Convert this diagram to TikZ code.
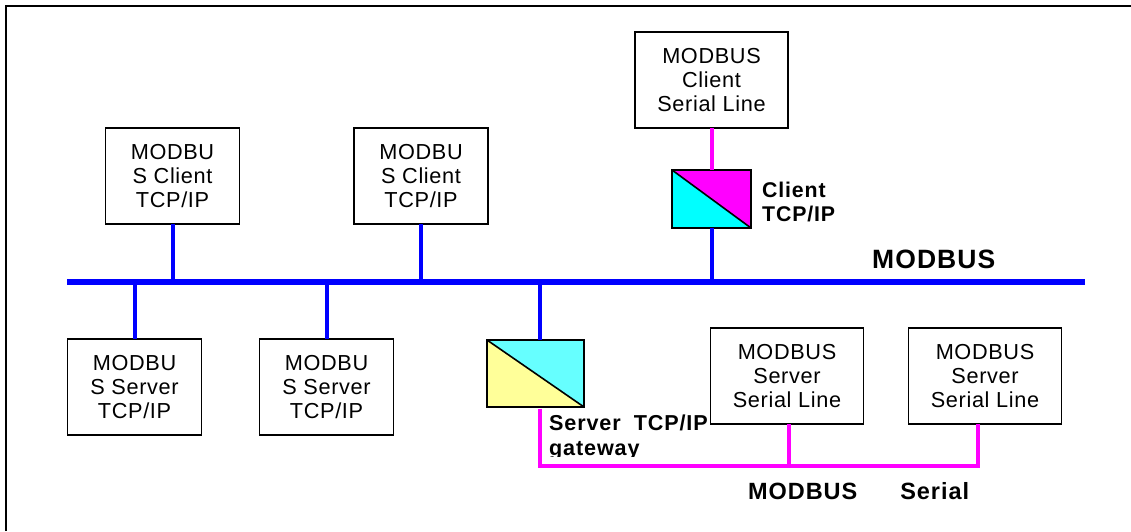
\documentclass[tikz,border=0pt]{standalone}
\usepackage{fontspec}
\setmainfont{Liberation Sans}
\newfontfamily\labelfont[LetterSpace=4]{Liberation Sans Bold}
\usetikzlibrary{positioning}
\definecolor{serialline}{RGB}{255,0,255}
\definecolor{busline}{RGB}{0,0,255}
\definecolor{convcyan}{RGB}{0,255,255}
\definecolor{gatecyan}{RGB}{102,255,255}
\definecolor{gateyellow}{RGB}{255,255,153}
\tikzset{
	devbox/.style={draw, line width=1.6, fill=white, inner sep=0, outer sep=0, align=center,
		font=\fontsize{21.7}{24}\selectfont\addfontfeature{LetterSpace=3}},
	tcpbox/.style={devbox, minimum width=134, minimum height=96},
	serbox/.style={devbox, minimum width=153, minimum height=96},
	convbox/.style={draw, line width=1.6, inner sep=0, outer sep=0},
	buswire/.style={busline, line width=4},
	serwire/.style={serialline, line width=4},
	boldlabel/.style={inner sep=0, anchor=west, align=left, font=\fontsize{21.3}{24.5}\labelfont}
}

\begin{document}
\begin{tikzpicture}[x=1pt, y=-1pt]

	\useasboundingbox (0,0) rectangle (1131,531);

	% frame, open at right and bottom
	\coordinate (framea) at (5.5,531);
	\coordinate (frameb) at (5.5,5.5);
	\coordinate (framec) at (1131,5.5);
	\draw[line width=2] (framea) -- (frameb) -- (framec);

	% TCP/IP devices
	\node[tcpbox] (clienta) at (172.5,176) {MODBU\\S Client\\TCP/IP};
	\node[tcpbox] (clientb) at (421,176) {MODBU\\S Client\\TCP/IP};
	\node[tcpbox] (servera) at (134.5,387) {MODBU\\S Server\\TCP/IP};
	\node[tcpbox] (serverb) at (326.5,387) {MODBU\\S Server\\TCP/IP};

	% serial line devices
	\node[serbox] (clients) at (711.5,80) {MODBUS\\Client\\Serial Line};
	\node[serbox] (serialc) at (787,376) {MODBUS\\Server\\Serial Line};
	\node[serbox] (seriald) at (985,376) {MODBUS\\Server\\Serial Line};

	% converters
	\node[convbox, minimum width=79, minimum height=58] (convc) at (711.5,199) {};
	\fill[serialline] (convc.north west) -- (convc.north east) -- (convc.south east) -- cycle;
	\fill[convcyan] (convc.north west) -- (convc.south west) -- (convc.south east) -- cycle;
	\draw[line width=1.6] (convc.north west) rectangle (convc.south east);
	\draw[line width=1.6] (convc.north west) -- (convc.south east);

	\node[convbox, minimum width=97, minimum height=67] (convs) at (535.5,373.5) {};
	\fill[gatecyan] (convs.north west) -- (convs.north east) -- (convs.south east) -- cycle;
	\fill[gateyellow] (convs.north west) -- (convs.south west) -- (convs.south east) -- cycle;
	\draw[line width=1.6] (convs.north west) rectangle (convs.south east);
	\draw[line width=1.6] (convs.north west) -- (convs.south east);

	% bus
	\coordinate (busa) at (67,281.5);
	\coordinate (busb) at (1085,281.5);
	\coordinate (gatein) at (540,281.5);
	\draw[busline, line width=6] (busa) -- (busb);
	\draw[buswire] (clienta.south) -- (clienta.south |- busa);
	\draw[buswire] (clientb.south) -- (clientb.south |- busa);
	\draw[buswire] (servera.north) -- (servera.north |- busa);
	\draw[buswire] (serverb.north) -- (serverb.north |- busa);
	\draw[buswire] (convc.south) -- (convc.south |- busa);
	\draw[buswire] (gatein) -- (gatein |- convs.north);

	% serial wires
	\coordinate (sera) at (540,465.5);
	\coordinate (serb) at (789,465.5);
	\coordinate (serc) at (978,465.5);
	\draw[serwire] (clients.south) -- (convc.north);
	\draw[serwire] (sera |- convs.south) ++(0,1.5) -- (sera) -- (serc) -- (serc |- seriald.south);
	\draw[serwire] (serb) -- (serb |- serialc.south);

	% labels
	\node[boldlabel] (clientlbl) at (762,202) {Client\\TCP/IP};
	\node[boldlabel, font=\fontsize{26.5}{28}\labelfont] (buslbl) at (872,259) {MODBUS};
	\node[boldlabel, font=\fontsize{23.5}{28}\labelfont] (seriallbl) at (748,491) {MODBUS\hspace{43pt}Serial};
	\begin{scope}
		\clip (545,405) rectangle (720,456.5);
		\node[boldlabel, font=\fontsize{21.6}{25.5}\labelfont] (gatelbl) at (549,437.5) {Server\hspace{13pt}TCP/IP\\gateway};
	\end{scope}

\end{tikzpicture}
\end{document}
